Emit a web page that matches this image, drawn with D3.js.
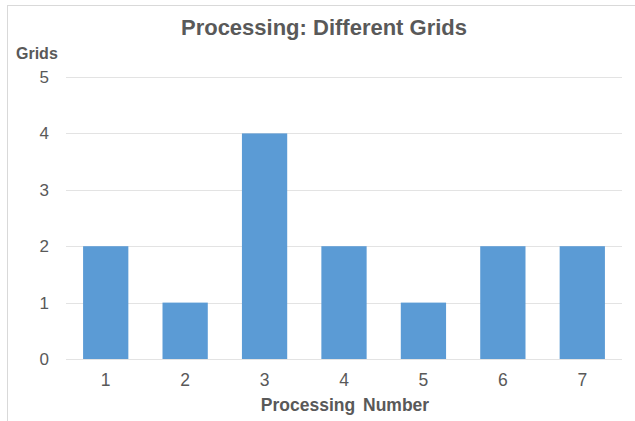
<!DOCTYPE html>
<html><head><meta charset="utf-8">
<script src="https://cdn.jsdelivr.net/npm/d3@7"></script>
<style>body{margin:0;background:#fff;}svg{display:block;font-family:"Liberation Sans",Arial,sans-serif;}</style>
</head><body><svg id="c" width="635" height="421"></svg>
<script>
const categories = ["1","2","3","4","5","6","7"];
const values = [2,1,4,2,1,2,2];
const yTicks = [0,1,2,3,4,5];
const title = "Processing: Different Grids";
const yTitle = "Grids";
const xTitle = "Processing Number";

const svg = d3.select("#c");
const W = 635, H = 421;
svg.append("rect").attr("x",7.5).attr("y",5.5).attr("width",W).attr("height",H)
  .attr("fill","#fff").attr("stroke","#d9d9d9").attr("stroke-width",1);

const m = {left:66, right:622, top:77, bottom:359};
const x = d3.scaleBand().domain(categories).range([m.left,m.right]).paddingInner(0.43).paddingOuter(0.215);
const y = d3.scaleLinear().domain([0,5]).range([m.bottom,m.top]);

const grid = svg.append("g");
grid.selectAll("line").data(yTicks).join("line")
  .attr("x1",m.left).attr("x2",m.right)
  .attr("y1",d=>Math.round(y(d))+0.5).attr("y2",d=>Math.round(y(d))+0.5)
  .attr("stroke","#e3e3e3").attr("stroke-width",1);

svg.append("g").selectAll("rect").data(values).join("rect")
  .attr("x",(d,i)=>x(categories[i])).attr("width",x.bandwidth())
  .attr("y",d=>y(d)).attr("height",d=>y(0)-y(d))
  .attr("fill","#5b9bd5");

const yAxis = svg.append("g").attr("transform",`translate(${m.left},0)`)
  .call(d3.axisLeft(y).tickValues(yTicks).tickSize(0).tickPadding(17).tickFormat(d3.format("d")));
yAxis.select(".domain").remove();
yAxis.selectAll("text").attr("font-size",17).attr("fill","#595959").attr("font-family","Liberation Sans, Arial, sans-serif");

const xAxis = svg.append("g").attr("transform",`translate(0,${m.bottom})`)
  .call(d3.axisBottom(x).tickSize(0).tickPadding(15));
xAxis.select(".domain").remove();
xAxis.selectAll("text").attr("font-size",17.5).attr("fill","#595959").attr("font-family","Liberation Sans, Arial, sans-serif");

svg.append("text").attr("x",324).attr("y",35).attr("text-anchor","middle")
  .attr("font-size",22).attr("font-weight","bold").attr("fill","#595959").text(title);
svg.append("text").attr("x",16).attr("y",59)
  .attr("font-size",16).attr("font-weight","bold").attr("fill","#595959").text(yTitle);
svg.append("text").attr("x",345).attr("y",411).attr("text-anchor","middle")
  .attr("font-size",17.5).attr("font-weight","bold").attr("fill","#595959").attr("word-spacing",3).text(xTitle);
</script></body></html>
